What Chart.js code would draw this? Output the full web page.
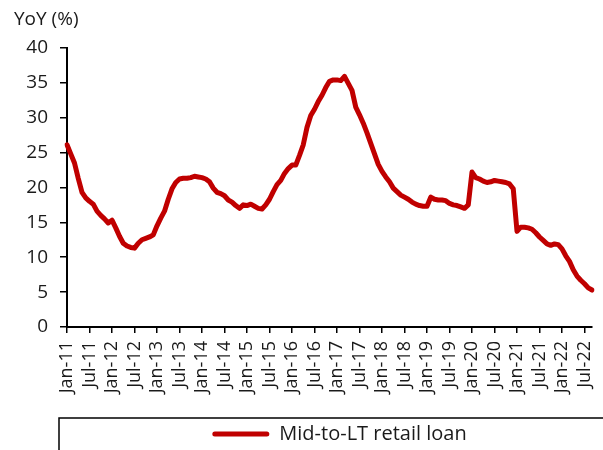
<!DOCTYPE html>
<html lang="en">
<head>
    <meta charset="UTF-8">
    <title>Mid-to-LT retail loan growth</title>
    <style>
        html, body {
            margin: 0;
            padding: 0;
            background: #fff;
        }
        #wrap {
            width: 603px;
            height: 450px;
        }
    </style>
</head>
<body>
    <div id="wrap"><canvas id="loanChart" width="603" height="450"></canvas></div>

    <script src="https://cdn.jsdelivr.net/npm/chart.js"></script>
    <script>
        // Monthly series, Jan-11 to Sep-22
        const firstYear = 2011;
        const monthNames = ['Jan', 'Feb', 'Mar', 'Apr', 'May', 'Jun', 'Jul', 'Aug', 'Sep', 'Oct', 'Nov', 'Dec'];
        const seriesName = 'Mid-to-LT retail loan';
        const yoyValues = [
            26.1, 24.8, 23.5, 21.3, 19.3, 18.5, 18.0, 17.6, 16.6, 16.0, 15.5, 14.9, // 2011
            15.3, 14.2, 13.0, 12.0, 11.6, 11.4, 11.3, 12.0, 12.5, 12.7, 12.9, 13.2, // 2012
            14.5, 15.6, 16.6, 18.3, 19.8, 20.7, 21.2, 21.3, 21.3, 21.4, 21.6, 21.5, // 2013
            21.4, 21.2, 20.8, 19.9, 19.3, 19.1, 18.8, 18.2, 17.9, 17.4, 17.0, 17.5, // 2014
            17.4, 17.6, 17.3, 17.0, 16.9, 17.5, 18.3, 19.4, 20.4, 21.0, 22.0, 22.7, // 2015
            23.2, 23.2, 24.6, 26.1, 28.6, 30.3, 31.2, 32.3, 33.2, 34.3, 35.2, 35.4, // 2016
            35.4, 35.3, 35.9, 34.9, 33.9, 31.5, 30.4, 29.2, 27.8, 26.3, 24.8, 23.3, // 2017
            22.3, 21.5, 20.8, 19.9, 19.4, 18.9, 18.6, 18.3, 17.9, 17.6, 17.4, 17.3, // 2018
            17.3, 18.6, 18.3, 18.2, 18.2, 18.1, 17.7, 17.5, 17.4, 17.2, 17.0, 17.5, // 2019
            22.2, 21.4, 21.2, 20.9, 20.7, 20.8, 21.0, 20.9, 20.8, 20.7, 20.5, 19.8, // 2020
            13.7, 14.3, 14.3, 14.2, 14.0, 13.5, 12.9, 12.4, 11.9, 11.7, 11.9, 11.8, // 2021
            11.2, 10.2, 9.4, 8.2, 7.3, 6.7, 6.2, 5.6, 5.3                          // 2022
        ];
        const yTicks = [0, 5, 10, 15, 20, 25, 30, 35, 40];

        // "Jan-11", "Feb-11", ... one per value
        const monthLabels = yoyValues.map((v, i) => {
            const yy = String((firstYear + Math.floor(i / 12)) % 100).padStart(2, '0');
            return monthNames[i % 12] + '-' + yy;
        });

        const textColor = '#1a1a1a';
        const fontFamily = '"Open Sans", "Noto Sans", sans-serif';

        // legend sits a bit right of centre, inside a frame open to the right and bottom
        const legendFrame = {
            id: 'legendFrame',
            afterLayout(chart) {
                chart.legend.left += 10;
                chart.legend.right += 10;
            },
            afterDraw(chart) {
                const ctx = chart.ctx;
                const lg = chart.legend;
                ctx.save();
                ctx.strokeStyle = '#000';
                ctx.lineWidth = 1.5;
                ctx.strokeRect(chart.chartArea.left - 8, lg.top - 4, chart.width + 20, 100);
                ctx.restore();
            }
        };

        new Chart(document.getElementById('loanChart'), {
            type: 'line',
            data: {
                labels: monthLabels,
                datasets: [{
                    label: seriesName,
                    data: yoyValues,
                    borderColor: '#c00000',
                    backgroundColor: '#c00000',
                    borderWidth: 5,
                    borderJoinStyle: 'round',
                    borderCapStyle: 'round',
                    pointRadius: 0,
                    tension: 0,
                    fill: false
                }]
            },
            options: {
                responsive: false,
                animation: false,
                layout: {
                    padding: { left: 14, right: 11, top: 0, bottom: 0 }
                },
                scales: {
                    x: {
                        type: 'category',
                        offset: false,
                        border: { color: '#000', width: 2 },
                        grid: {
                            drawOnChartArea: false,
                            color: '#000',
                            lineWidth: 1.5,
                            tickLength: 6
                        },
                        ticks: {
                            autoSkip: false,
                            maxRotation: 90,
                            minRotation: 90,
                            padding: 8,
                            color: textColor,
                            font: { family: fontFamily, size: 18 },
                            callback: (val, index) => index % 6 === 0 ? monthLabels[index] : null
                        },
                        afterFit: (scale) => {
                            scale.height = 95;
                            scale.paddingLeft = 0;
                            scale.paddingRight = 0;
                        }
                    },
                    y: {
                        min: 0,
                        max: 40,
                        border: { color: '#000', width: 2 },
                        grid: {
                            drawOnChartArea: false,
                            color: '#000',
                            lineWidth: 1.5,
                            tickLength: 7
                        },
                        afterBuildTicks: (scale) => {
                            scale.ticks = yTicks.map(v => ({ value: v }));
                        },
                        ticks: {
                            padding: 12,
                            color: textColor,
                            font: { family: fontFamily, size: 19 }
                        },
                        afterFit: (scale) => { scale.width = 53; }
                    }
                },
                plugins: {
                    title: {
                        display: true,
                        text: 'YoY (%)',
                        align: 'start',
                        color: textColor,
                        font: { family: fontFamily, size: 19, weight: 'normal' },
                        padding: { top: 8, bottom: 17 }
                    },
                    legend: {
                        position: 'bottom',
                        fullSize: false,
                        maxHeight: 28,
                        labels: {
                            color: textColor,
                            font: { family: fontFamily, size: 20 },
                            boxWidth: 57,
                            boxHeight: 5,
                            padding: 2,
                            useBorderRadius: true,
                            borderRadius: 2.5,
                            generateLabels: (chart) => Chart.defaults.plugins.legend.labels.generateLabels(chart)
                                .map(item => Object.assign(item, { lineWidth: 0 }))
                        }
                    },
                    tooltip: { enabled: false }
                }
            },
            plugins: [legendFrame]
        });
    </script>
</body>
</html>
